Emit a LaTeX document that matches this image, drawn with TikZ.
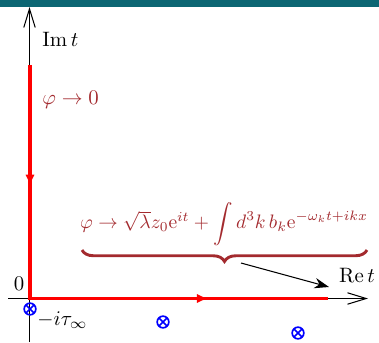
\documentclass[tikz,border=0pt]{standalone}
\usepackage{amsmath}
\usetikzlibrary{arrows.meta,decorations.pathreplacing,decorations.markings}
\definecolor{barteal}{RGB}{12,102,115}
\definecolor{fbrown}{RGB}{163,42,46}
\begin{document}
\begin{tikzpicture}[x=0.48pt,y=-0.48pt,
  axis/.style={line width=0.5pt,-{Straight Barb[length=9pt,width=5.5pt]}},
  contour/.style={red,line width=1.5pt,line join=miter,
    postaction={decorate},
    decoration={markings,
      mark=at position 0.228 with {\arrow{Latex[length=5.5pt,width=4.5pt]}},
      mark=at position 0.775 with {\arrow{Latex[length=5.5pt,width=4.5pt]}}}},
  lbl/.style={inner sep=0pt},
  pole/.style={circle,draw=blue,line width=0.8pt,minimum size=5.6pt,inner sep=0pt,
    path picture={\draw[blue,line width=0.8pt]
      (path picture bounding box.north west) -- (path picture bounding box.south east)
      (path picture bounding box.north east) -- (path picture bounding box.south west);}},
  bracestyle/.style={fbrown,line width=1.4pt,decorate,
    decoration={brace,mirror,amplitude=5.5pt}}]
\useasboundingbox (0,0) rectangle (379,342);
\fill[barteal] (0,0) rectangle (379,7);
% axes
\coordinate (ybot) at (29.5,342);
\coordinate (ytop) at (29.5,7);
\coordinate (xl) at (8,298.5);
\coordinate (xr) at (368,298.5);
\draw[axis] (ybot) -- (ytop);
\draw[axis] (xl) -- (xr);
% contour
\coordinate (c1) at (30,65);
\coordinate (c2) at (30,298.5);
\coordinate (c3) at (328,298.5);
\draw[contour] (c1) -- (c2) -- (c3);
% labels
\node[lbl,anchor=west] (im) at (42,39) {$\mathrm{Im}\,t$};
\node[lbl,anchor=west,text=fbrown] (phi0) at (42,100) {$\varphi\rightarrow 0$};
\node[lbl] (zero) at (19,284) {$0$};
\node[lbl] (re) at (357,275) {$\mathrm{Re}\,t$};
\node[lbl,anchor=west] (tau) at (37,320) {$-i\tau_\infty$};
\node[lbl,text=fbrown,scale=0.935] (formula) at (224,224)
  {$\varphi\rightarrow\sqrt{\lambda}z_0\mathrm{e}^{it}+\displaystyle\int d^3k\,b_k\mathrm{e}^{-\omega_k t+ikx}$};
% brace
\coordinate (bl) at (82,250);
\coordinate (br) at (367,250);
\draw[bracestyle] (bl) -- (br);
% arrow
\coordinate (as) at (241,263);
\coordinate (ae) at (329,287);
\draw[line width=0.5pt,-{Stealth[length=7pt,width=5pt]}] (as) -- (ae);
% poles
\node[pole] (p1) at (30,309) {};
\node[pole] (p2) at (163,322) {};
\node[pole] (p3) at (298,333) {};
\end{tikzpicture}
\end{document}
